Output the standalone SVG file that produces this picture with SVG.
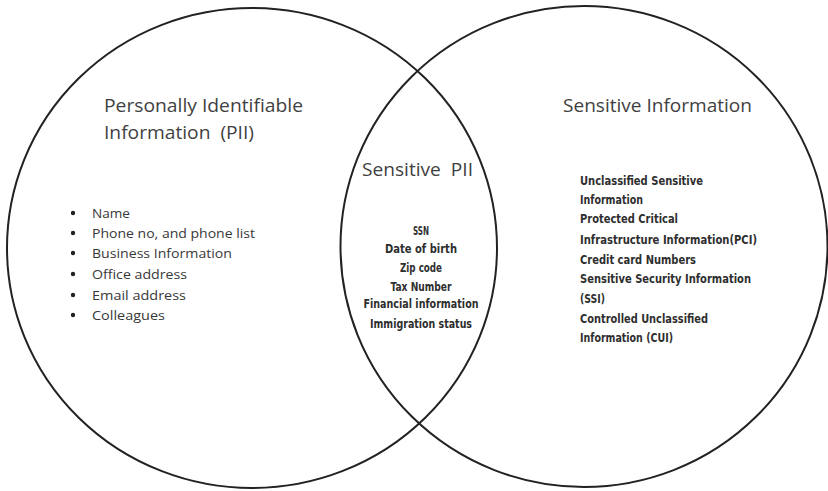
<svg xmlns="http://www.w3.org/2000/svg" width="828" height="491" viewBox="0 0 828 491">
  <style>
    .ring { fill: none; stroke: #222; stroke-width: 2; }
    .title { font-family: "Open Sans", "Noto Sans", sans-serif; font-size: 18.5px; fill: #3f3f3f; }
    .item { font-family: "Open Sans", "Noto Sans", sans-serif; font-size: 13.5px; fill: #383838; }
    .bold { font-family: "DejaVu Sans Condensed", "Liberation Sans Narrow", "Liberation Sans", sans-serif; font-size: 12.5px; font-weight: bold; fill: #2e2e2e; }
    .dot { fill: #222; }
  </style>
  <rect width="828" height="491" fill="#fff"/>

  <!-- Venn circles -->
  <g id="connectors"></g>

  <g id="pii">
    <ellipse class="ring" cx="252" cy="248" rx="245" ry="240"/>
    <text class="title" x="104" y="112" textLength="199" lengthAdjust="spacingAndGlyphs">Personally Identifiable</text>
    <text class="title" x="104" y="139" textLength="150" lengthAdjust="spacingAndGlyphs" xml:space="preserve">Information  (PII)</text>
    <circle class="dot" cx="73" cy="213" r="2.2"/>
    <circle class="dot" cx="73" cy="233" r="2.2"/>
    <circle class="dot" cx="73" cy="253" r="2.2"/>
    <circle class="dot" cx="73" cy="274" r="2.2"/>
    <circle class="dot" cx="73" cy="295" r="2.2"/>
    <circle class="dot" cx="73" cy="315" r="2.2"/>
    <text class="item" x="92" y="217.5" textLength="38" lengthAdjust="spacingAndGlyphs">Name</text>
    <text class="item" x="92" y="237.5" textLength="163" lengthAdjust="spacingAndGlyphs">Phone no, and phone list</text>
    <text class="item" x="92" y="257.5" textLength="140" lengthAdjust="spacingAndGlyphs">Business Information</text>
    <text class="item" x="92" y="278.5" textLength="95" lengthAdjust="spacingAndGlyphs">Office address</text>
    <text class="item" x="92" y="299.5" textLength="94" lengthAdjust="spacingAndGlyphs">Email address</text>
    <text class="item" x="92" y="319.5" textLength="73" lengthAdjust="spacingAndGlyphs">Colleagues</text>
  </g>

  <g id="sensitive-info">
    <ellipse class="ring" cx="584" cy="246.5" rx="243.5" ry="240.5"/>
    <text class="title" x="563" y="112" textLength="189" lengthAdjust="spacingAndGlyphs">Sensitive Information</text>
    <text class="bold" x="580" y="184.5" textLength="123" lengthAdjust="spacingAndGlyphs">Unclassified Sensitive</text>
    <text class="bold" x="580" y="203.5" textLength="63" lengthAdjust="spacingAndGlyphs">Information</text>
    <text class="bold" x="580" y="222.5" textLength="98" lengthAdjust="spacingAndGlyphs">Protected Critical</text>
    <text class="bold" x="580" y="243.5" textLength="177" lengthAdjust="spacingAndGlyphs">Infrastructure Information(PCI)</text>
    <text class="bold" x="580" y="263.5" textLength="116" lengthAdjust="spacingAndGlyphs">Credit card Numbers</text>
    <text class="bold" x="580" y="282.5" textLength="171" lengthAdjust="spacingAndGlyphs">Sensitive Security Information</text>
    <text class="bold" x="580" y="302.5" textLength="25" lengthAdjust="spacingAndGlyphs">(SSI)</text>
    <text class="bold" x="580" y="322.5" textLength="128" lengthAdjust="spacingAndGlyphs">Controlled Unclassified</text>
    <text class="bold" x="580" y="341.5" textLength="93" lengthAdjust="spacingAndGlyphs">Information (CUI)</text>
  </g>

  <g id="sensitive-pii">
    <text class="title" x="362" y="176" textLength="111" lengthAdjust="spacingAndGlyphs" xml:space="preserve">Sensitive  PII</text>
    <g text-anchor="middle">
      <text class="bold" x="421" y="234.5" textLength="16" lengthAdjust="spacingAndGlyphs">SSN</text>
      <text class="bold" x="421" y="252.5" textLength="72" lengthAdjust="spacingAndGlyphs">Date of birth</text>
      <text class="bold" x="421" y="271.5" textLength="42" lengthAdjust="spacingAndGlyphs">Zip code</text>
      <text class="bold" x="421" y="290.5" textLength="61" lengthAdjust="spacingAndGlyphs">Tax Number</text>
      <text class="bold" x="421" y="307.5" textLength="115" lengthAdjust="spacingAndGlyphs">Financial information</text>
      <text class="bold" x="421" y="327.5" textLength="102" lengthAdjust="spacingAndGlyphs">Immigration status</text>
    </g>
  </g>
</svg>
